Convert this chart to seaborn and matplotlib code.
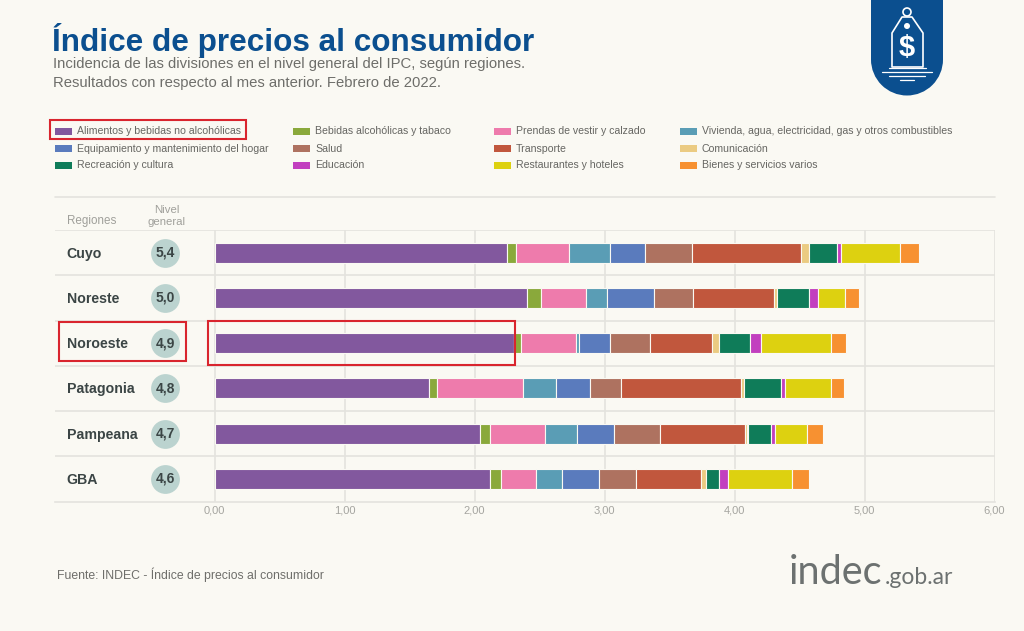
import numpy as np
import seaborn as sns
import matplotlib.pyplot as plt
from matplotlib.patches import Rectangle, Polygon, Circle

# datos (incidencia por region)
regiones = ['Cuyo', 'Noreste', 'Noroeste', 'Patagonia', 'Pampeana', 'GBA']
nivel_general = ['5,4', '5,0', '4,9', '4,8', '4,7', '4,6']

alimentos = [2.25, 2.40, 2.30, 1.65, 2.04, 2.12]
bebidas = [0.07, 0.11, 0.06, 0.06, 0.08, 0.08]
prendas = [0.41, 0.35, 0.42, 0.66, 0.42, 0.27]
vivienda = [0.31, 0.16, 0.02, 0.26, 0.25, 0.20]
equipamiento = [0.27, 0.36, 0.24, 0.26, 0.28, 0.29]
salud = [0.36, 0.30, 0.31, 0.24, 0.36, 0.28]
transporte = [0.84, 0.62, 0.48, 0.92, 0.65, 0.50]
comunicacion = [0.06, 0.03, 0.05, 0.02, 0.02, 0.04]
recreacion = [0.22, 0.24, 0.24, 0.29, 0.18, 0.10]
educacion = [0.03, 0.07, 0.08, 0.03, 0.03, 0.07]
restaurantes = [0.45, 0.21, 0.54, 0.35, 0.25, 0.49]
bienes = [0.15, 0.11, 0.12, 0.10, 0.12, 0.13]

divisiones = [
    ('Alimentos y bebidas no alcohólicas', alimentos, '#82589E'),
    ('Bebidas alcohólicas y tabaco', bebidas, '#8AA93B'),
    ('Prendas de vestir y calzado', prendas, '#EE7BAC'),
    ('Vivienda, agua, electricidad, gas y otros combustibles', vivienda, '#5A9DB5'),
    ('Equipamiento y mantenimiento del hogar', equipamiento, '#5A7BBD'),
    ('Salud', salud, '#AE7260'),
    ('Transporte', transporte, '#C1573D'),
    ('Comunicación', comunicacion, '#EBCB82'),
    ('Recreación y cultura', recreacion, '#0F7C59'),
    ('Educación', educacion, '#C23FBF'),
    ('Restaurantes y hoteles', restaurantes, '#DDD110'),
    ('Bienes y servicios varios', bienes, '#F79131'),
]
ticks = [0, 1, 2, 3, 4, 5, 6]

FONDO = '#FAF9F3'
LINEA = '#E4E3DE'
ROJO = '#D9252E'
AZUL = '#0B4F8F'

sns.set_theme(style='white')
plt.rcParams['font.family'] = ['Liberation Sans', 'DejaVu Sans']

W, H = 1024, 631
fig = plt.figure(figsize=(W / 100, H / 100), dpi=100, facecolor=FONDO)

# el eje va de x=55 a x=995 px, asi las etiquetas de region caen dentro
ax = fig.add_axes([54.5 / W, 1 - 501.5 / H, 940 / W, 271.5 / H], facecolor='none')
acum = np.zeros(len(regiones))
for nombre, valores, color in divisiones:
    sns.barplot(x=valores, y=regiones, order=regiones, orient='h', color=color,
                saturation=1, width=0.44, left=acum, edgecolor=FONDO, linewidth=0.8,
                ax=ax, zorder=3)
    acum = acum + np.array(valores)

ax.set_xlim(-160 / 130, 6)
ax.set_ylim(5.5, -0.5)
ax.set_xlabel('')
ax.set_ylabel('')
ax.set_yticks([])
ax.set_xticks(ticks)
ax.set_xticklabels([f'{t},00' for t in ticks], fontsize=8, color='#A5A5A0')
ax.tick_params(axis='x', length=0, pad=3)
sns.despine(ax=ax, left=True, right=True, top=True, bottom=False)
ax.spines['bottom'].set_color(LINEA)
ax.spines['bottom'].set_linewidth(1.2)

for t in ticks:
    ax.axvline(t, color=LINEA, lw=1.2, zorder=1)
ax.hlines(np.arange(-0.5, 5), -160 / 130, 6, color=LINEA, lw=1.2, zorder=1)

# filas: region + circulo del nivel general
ax.scatter([-0.377] * 6, range(6), s=430, color='#BBD3CF', linewidth=0, zorder=3, clip_on=False)
for i, (reg, niv) in enumerate(zip(regiones, nivel_general)):
    ax.text(-1.138, i + 0.02, reg, fontsize=10.2, fontweight='bold', color='#3B4545', va='center')
    ax.text(-0.377, i, niv, fontsize=10, fontweight='bold', color='#3B4545', va='center', ha='center', zorder=4)

# capa en pixeles para titulos, leyenda y logo
ov = fig.add_axes([0, 0, 1, 1], facecolor='none')
ov.set_xlim(0, W)
ov.set_ylim(H, 0)
ov.axis('off')

ov.text(52, 40, 'Índice de precios al consumidor', fontsize=22.7, fontweight='bold', color=AZUL, va='center')
ov.text(53, 64, 'Incidencia de las divisiones en el nivel general del IPC, según regiones.',
        fontsize=10.7, color='#6E6E6A', va='center')
ov.text(53, 83, 'Resultados con respecto al mes anterior. Febrero de 2022.',
        fontsize=10.7, color='#6E6E6A', va='center')

col_x = [55, 293, 494, 680]
fila_y = [131, 148, 165]
for k, (nombre, valores, color) in enumerate(divisiones):
    x = col_x[k % 4]
    y = fila_y[k // 4]
    ov.add_patch(Rectangle((x, y - 3.5), 17, 7, color=color, lw=0))
    ov.text(x + 22, y + 0.5, nombre, fontsize=7.6, color='#666662', va='center')

ov.plot([55, 995], [197, 197], color=LINEA, lw=1.2)
ov.text(67, 221, 'Regiones', fontsize=8.4, color='#A0A09B', va='center')
ov.text(167, 216, 'Nivel\ngeneral', fontsize=8.2, color='#A0A09B', va='center', ha='center', linespacing=1.15)

# recuadros rojos
for x0, y0, x1, y1 in [(50, 120, 246, 139), (59, 322, 186, 361), (208, 321, 515, 365)]:
    ov.add_patch(Rectangle((x0, y0), x1 - x0, y1 - y0, fill=False, ec=ROJO, lw=1.5, zorder=6))

ov.text(57, 575, 'Fuente: INDEC - Índice de precios al consumidor', fontsize=8.8, color='#6E6E6A', va='center')
ov.text(789, 572, 'indec', fontsize=28.5, color='#6C7170', va='center', family=['Lato', 'Liberation Sans'])
ov.text(885, 577, '.gob.ar', fontsize=16.5, color='#6C7170', va='center', family=['Lato', 'Liberation Sans'])

# logo de la etiqueta
ov.add_patch(Rectangle((871, -2), 72, 62, color=AZUL, lw=0))
ov.add_patch(Circle((907, 59.5), 36, color=AZUL, lw=0))
ov.add_patch(Polygon([(892, 67), (892, 33), (902, 17), (912, 17), (923, 33), (923, 67)], closed=True,
                     fill=False, ec='white', lw=1.2, joinstyle='round'))
ov.add_patch(Circle((907, 12), 4, fill=False, ec='white', lw=1.2))
ov.add_patch(Circle((907, 26), 3, color='white', lw=0))
ov.text(907, 48, '$', color='white', fontsize=21, fontweight='bold', ha='center', va='center')
for x0, x1, y in [(889, 926, 68), (882, 932, 72), (889, 925, 76), (900, 914, 80)]:
    ov.plot([x0, x1], [y, y], color='white', lw=0.9)

fig.savefig('out.png', dpi=100, facecolor=FONDO)
